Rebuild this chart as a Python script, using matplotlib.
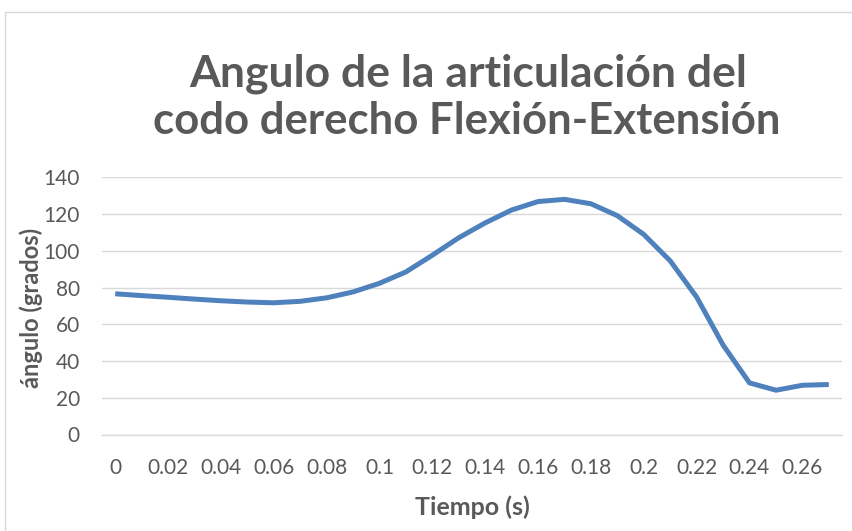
import matplotlib
matplotlib.use("Agg")
import matplotlib.pyplot as plt
from matplotlib.patches import Rectangle

# ---- data ----
tiempo = [0.00, 0.01, 0.02, 0.03, 0.04, 0.05, 0.06, 0.07, 0.08, 0.09,
          0.10, 0.11, 0.12, 0.13, 0.14, 0.15, 0.16, 0.17, 0.18, 0.19,
          0.20, 0.21, 0.22, 0.23, 0.24, 0.25, 0.26, 0.27]
angulo = [76.6, 75.6, 74.7, 73.7, 72.8, 72.1, 71.7, 72.5, 74.4, 77.6,
          82.3, 88.5, 97.6, 107.1, 115.2, 122.2, 126.8, 128.0, 125.6, 119.1,
          108.9, 94.5, 74.8, 48.7, 28.1, 24.1, 26.8, 27.2]
xtick_vals = [0.00, 0.02, 0.04, 0.06, 0.08, 0.10, 0.12, 0.14, 0.16, 0.18,
              0.20, 0.22, 0.24, 0.26]
xtick_labels = ["0", "0.02", "0.04", "0.06", "0.08", "0.1", "0.12", "0.14",
                "0.16", "0.18", "0.2", "0.22", "0.24", "0.26"]
ytick_vals = [0, 20, 40, 60, 80, 100, 120, 140]
title_lines = ["Angulo de la articulación del", "codo derecho Flexión-Extensión"]
xlabel = "Tiempo (s)"
ylabel = "ángulo (grados)"

# ---- style ----
W, H = 852, 531
DPI = 100
plt.rcParams['font.family'] = ['Lato', 'DejaVu Sans']
TXT = '#595959'
GRID = '#D9D9D9'
LINE = '#4F81BD'

fig = plt.figure(figsize=(W / DPI, H / DPI), dpi=DPI)
fig.patch.set_facecolor('white')

# outer chart border
fig.patches.append(Rectangle((5 / W, -0.05), 1.0, 1 - 12 / H + 0.05,
                             transform=fig.transFigure, fill=False,
                             edgecolor=GRID, linewidth=1.0))

left, right = 102 / W, 842 / W
top_px, bot_px = 177.3, 434.5
ax = fig.add_axes([left, 1 - bot_px / H, right - left, (bot_px - top_px) / H])
ax.set_facecolor('none')

ax.plot(tiempo, angulo, color=LINE, linewidth=3.6, solid_capstyle='butt',
        solid_joinstyle='round', zorder=3)

ax.set_xlim(-0.005, 0.275)
ax.set_ylim(0, 140)
ax.set_yticks(ytick_vals)
ax.set_xticks(xtick_vals)
ax.set_xticklabels(xtick_labels)
ax.grid(axis='y', color=GRID, linewidth=1.0, zorder=0)
ax.grid(axis='x', visible=False)
for s in ['left', 'right', 'top']:
    ax.spines[s].set_visible(False)
ax.spines['bottom'].set_color(GRID)
ax.spines['bottom'].set_linewidth(1.0)
ax.tick_params(axis='both', length=0, labelsize=15, labelcolor=TXT)
ax.tick_params(axis='x', pad=17)
ax.tick_params(axis='y', pad=16)

# axis titles
fig.text(472 / W, 1 - 507 / H, xlabel, ha='center', va='center',
         fontsize=18, fontweight='bold', color=TXT)
fig.text(31 / W, 1 - 308 / H, ylabel, ha='center', va='center',
         rotation=90, fontsize=17, fontweight='bold', color=TXT)

# chart title
fig.text(468 / W, 1 - 86 / H, title_lines[0], ha='center', va='baseline',
         fontsize=32, fontweight='bold', color=TXT)
fig.text(467 / W, 1 - 134 / H, title_lines[1], ha='center', va='baseline',
         fontsize=31.5, fontweight='bold', color=TXT)

fig.savefig('out.png', dpi=DPI, facecolor='white')
